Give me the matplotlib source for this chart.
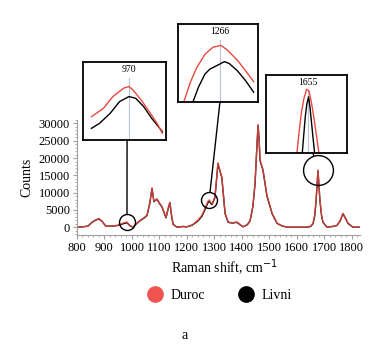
import numpy as np
import matplotlib
matplotlib.use('Agg')
import matplotlib.pyplot as plt
from matplotlib.patches import ConnectionPatch
from matplotlib.ticker import AutoMinorLocator

plt.rcParams['font.family'] = ['Liberation Serif', 'DejaVu Serif']

# main spectrum
wavenumber = [800, 820, 840, 855, 865, 873, 880, 891, 905, 927, 950, 968, 982, 993, 1004,
              1018, 1030, 1045, 1055, 1065, 1073, 1080, 1091, 1100, 1109, 1124, 1132, 1138,
              1145, 1150, 1164, 1186, 1200, 1220, 1240, 1255, 1266, 1277, 1281, 1291, 1302,
              1308, 1313, 1320, 1327, 1339, 1350, 1365, 1382, 1392, 1404, 1420, 1430, 1440,
              1448, 1455, 1459, 1463, 1466, 1477, 1491, 1510, 1528, 1545, 1564, 1600, 1637,
              1650, 1659, 1665, 1670, 1677, 1684, 1690, 1695, 1710, 1730, 1746, 1758, 1768,
              1778, 1786, 1804, 1830]
duroc = [0, 100, 300, 1500, 2000, 2300, 2500, 1800, 300, 300, 600, 1200, 1500, 500, 0,
         1200, 2000, 2800, 3500, 7000, 11400, 7500, 8200, 7000, 6000, 2800, 5500, 7200,
         3000, 800, 0, 200, 100, 700, 2000, 3500, 5500, 7600, 7900, 6700, 8700,
         14000, 18600, 16500, 14600, 4000, 1500, 1300, 1500, 900, 100, 800, 2000, 6000,
         12800, 24000, 29700, 25000, 19500, 16600, 9300, 4000, 1200, 400, 0, 0, 0,
         300, 1200, 3500, 7900, 16600, 7900, 3500, 1500, 0, 200, 500, 2000, 4000,
         2500, 1200, 0, 0]
livni = [0, 100, 300, 1400, 1900, 2200, 2400, 1700, 300, 300, 500, 1000, 1300, 400, 0,
         1100, 1900, 2700, 3400, 6900, 11200, 7400, 8100, 6900, 5900, 2700, 5400, 7100,
         2900, 800, 0, 200, 100, 600, 1800, 3200, 5100, 7200, 7500, 6500, 8500,
         13800, 18400, 16300, 14400, 3900, 1400, 1200, 1400, 800, 100, 700, 1900, 5900,
         12600, 23800, 29500, 24800, 19300, 16400, 9100, 3900, 1100, 400, 0, 0, 0,
         200, 1000, 3200, 7600, 16300, 7700, 3300, 1400, 0, 200, 500, 1900, 3900,
         2400, 1100, 0, 0]

# zoom-in insets: label, band position, inset curves
inset_labels = ['970', '1266', '1655']
circle_wn = [982, 1281, 1677]

ins970_x_red = [942, 951, 958, 966, 970, 973, 980, 986, 991, 995]
ins970_y_red = [1211, 1286, 1391, 1466, 1481, 1451, 1346, 1241, 1151, 1061]
ins970_x_blk = [942, 948, 956, 963, 970, 975, 981, 987, 992, 995]
ins970_y_blk = [1106, 1151, 1241, 1346, 1391, 1376, 1301, 1196, 1121, 1076]

ins1266_x_red = [1243.6, 1247.6, 1251.6, 1256.6, 1261.6, 1266.6, 1270.6, 1276.6, 1281.6, 1286.6]
ins1266_y_red = [5830, 6430, 6880, 7280, 7500, 7550, 7400, 7100, 6780, 6450]
ins1266_x_blk = [1249.2, 1252.6, 1256.6, 1259.6, 1263.6, 1268.6, 1271.6, 1276.6, 1281.6, 1286.6]
ins1266_y_blk = [5830, 6280, 6680, 6830, 6930, 7060, 7000, 6780, 6480, 6130]

ins1655_x_red = [1639, 1642, 1645.5, 1649.5, 1653.5, 1657, 1661, 1665, 1668.5, 1672]
ins1655_y_red = [6300, 9250, 12250, 14500, 15850, 15650, 13750, 11250, 8750, 6300]
ins1655_x_blk = [1647, 1649, 1651.5, 1654, 1656.5, 1658.5, 1661, 1663.5, 1665.5]
ins1655_y_blk = [6300, 8750, 11750, 13750, 14750, 13250, 10750, 8250, 6300]

red = '#e8483f'

fig = plt.figure(figsize=(3.81, 3.52), dpi=100)
ax = fig.add_axes([0.202, 0.332, 0.743, 0.327])
ax.plot(wavenumber, livni, color='black', lw=1.0)
ax.plot(wavenumber, duroc, color=red, lw=1.0, alpha=0.85)
ax.set_xlim(800, 1830)
ax.set_ylim(-2300, 31000)
ax.set_xticks(range(800, 1801, 100))
ax.set_yticks(range(0, 30001, 5000))
ax.xaxis.set_minor_locator(AutoMinorLocator(5))
ax.yaxis.set_minor_locator(AutoMinorLocator(5))
for s in ['top', 'right']:
    ax.spines[s].set_visible(False)
for s in ['left', 'bottom']:
    ax.spines[s].set_color('#a0a0a0')
    ax.spines[s].set_linewidth(0.8)
ax.tick_params(which='both', direction='out', color='#a0a0a0', labelsize=9, pad=2)
ax.tick_params(which='major', length=3)
ax.tick_params(which='minor', length=1.5)
ax.set_xlabel('Raman shift, cm$^{-1}$', fontsize=10, labelpad=6)
ax.xaxis.set_label_coords(0.52, -0.2)
ax.set_ylabel('Counts', fontsize=10, labelpad=4)

# circles on the main spectrum
circle_y = np.interp(circle_wn, wavenumber, duroc)
circle_ms = [11.5, 11.5, 21.5]
for cx, cy, ms in zip(circle_wn, circle_y, circle_ms):
    ax.plot(cx, cy, 'o', ms=ms, mfc='none', mec='black', mew=1.0)

insets = [
    ([0.218, 0.602, 0.218, 0.2216], ins970_x_red, ins970_y_red, ins970_x_blk, ins970_y_blk,
     (935.75, 997.75), (1001, 1700), 0.53),
    ([0.467, 0.710, 0.210, 0.2216], ins1266_x_red, ins1266_y_red, ins1266_x_blk, ins1266_y_blk,
     (1240, 1289.2), (5830, 8200), 0.525),
    ([0.698, 0.565, 0.2126, 0.2216], ins1655_x_red, ins1655_y_red, ins1655_x_blk, ins1655_y_blk,
     (1592.5, 1714), (6300, 18000), 0.58),
]
for (pos, xr, yr, xb, yb, xl, yl, conn_x), label, cx, cy, ms in zip(
        insets, inset_labels, circle_wn, circle_y, circle_ms):
    ins = fig.add_axes(pos)
    center = float(label)
    ins.axvline(center, ymin=0, ymax=0.8, color='#b8c4d6', lw=0.8)
    ins.plot(xb, yb, color='black', lw=1.0)
    ins.plot(xr, yr, color=red, lw=1.0)
    ins.set_xlim(*xl)
    ins.set_ylim(*yl)
    ins.set_xticks([])
    ins.set_yticks([])
    for s in ins.spines.values():
        s.set_linewidth(1.3)
    ins.text(center, yl[1] - (yl[1] - yl[0]) * 0.1, label, ha='center', va='center', fontsize=7)
    con = ConnectionPatch(xyA=(conn_x, 0), coordsA=ins.transAxes, xyB=(cx, cy), coordsB=ax.transData,
                          color='black', lw=1.0, shrinkB=ms / 2)
    fig.add_artist(con)

# legend
h1, = ax.plot([], [], 'o', color='#ef5350', ms=11, label='Duroc')
h2, = ax.plot([], [], 'o', color='black', ms=11, label='Livni')
fig.legend(handles=[h1, h2], loc='center', bbox_to_anchor=(0.575, 0.16), ncol=2, frameon=False,
           fontsize=10, handletextpad=0.5, columnspacing=2.4, handlelength=1.2)

fig.text(0.485, 0.048, 'a', ha='center', va='center', fontsize=10)

fig.savefig('out.png', dpi=100)
